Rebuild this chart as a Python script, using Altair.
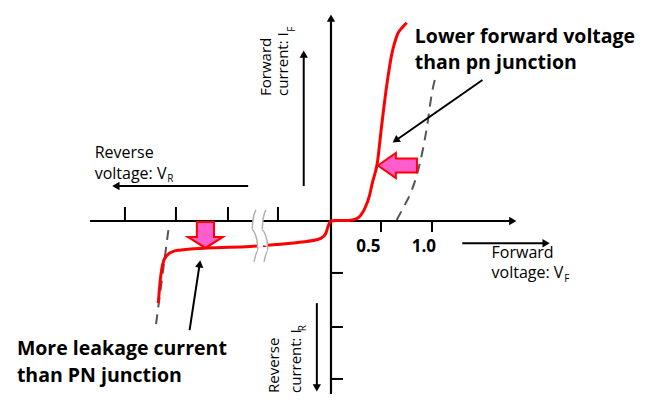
import altair as alt
import pandas as pd

# ---------------- data (volts on x, current units on y) ----------------
red_v = [-1.71, -1.69, -1.66, -1.62, -1.57, -1.50, -1.23, -0.80, -0.57, -0.31,
         -0.13, -0.08, -0.05, -0.03, 0.0, 0.04, 0.14, 0.21, 0.27, 0.31,
         0.34, 0.38, 0.41, 0.46, 0.50, 0.55, 0.58, 0.60, 0.63, 0.66, 0.71, 0.75]
red_i = [-1.55, -1.11, -0.77, -0.64, -0.58, -0.55, -0.51, -0.48, -0.45, -0.40,
         -0.35, -0.30, -0.23, -0.11, 0.0, 0.01, 0.01, 0.02, 0.06, 0.15,
         0.26, 0.47, 0.72, 1.11, 1.77, 2.53, 2.91, 3.13, 3.36, 3.53, 3.66, 3.74]

pn_fwd_v = [0.65, 0.73, 0.80, 0.88, 0.95, 1.00, 1.04]
pn_fwd_i = [0.02, 0.30, 0.58, 1.09, 1.77, 2.42, 2.75]
pn_rev_v = [-1.61, -1.74]
pn_rev_i = [-0.17, -2.06]

rev_tick_v = [-2.04, -1.535, -1.02, -0.525]
fwd_tick_v = [0.495, 1.0]
fwd_tick_labels = ["0.5", "1.0"]
fwd_label_v = [0.37, 0.92]
cur_tick_i = [-0.98, -2.0, -2.98]

# break symbol (two wavy strokes) around v = -0.7
brk_c = [0.21, 0.02, -0.17, -0.36, -0.55, -0.77]
brk_left_v = [-0.743, -0.772, -0.782, -0.733, -0.723, -0.762]
brk_right_v = [-0.644, -0.673, -0.683, -0.634, -0.624, -0.663]
brk_mid_v = [-0.693, -0.722, -0.732, -0.683, -0.673, -0.712]

# straight arrows: (x, y) start -> (x2, y2) tip, head angle
arrow_x = [-0.27, -0.82, 1.30, -0.14, 1.50, -1.40]
arrow_y = [0.66, 0.66, -0.42, -1.55, 2.66, -2.06]
arrow_x2 = [-0.27, -2.13, 2.13, -0.14, 0.64, -1.30]
arrow_y2 = [3.15, 0.66, -0.42, -3.15, 1.52, -0.81]
arrow_angle = [0, 270, 90, 180, 235, 8]

axis_head_x = [1.80, 0.0]
axis_head_y = [0.0, 3.83]
axis_head_angle = [90, 0]

# ---------------- scales ----------------
xs = alt.Scale(domain=[-3.198, 3.030], nice=False, zero=False)
ys = alt.Scale(domain=[-3.264, 4.019], nice=False, zero=False)


def X(f="x"):
    return alt.X(f"{f}:Q", scale=xs, axis=None)


def Y(f="y"):
    return alt.Y(f"{f}:Q", scale=ys, axis=None)


REG = "Open Sans"

# axes
axes_df = pd.DataFrame({"x": [-2.386, 0.0], "y": [0.0, -3.264],
                        "x2": [1.80, 0.0], "y2": [0.0, 3.83]})
axes = alt.Chart(axes_df).mark_rule(color="black", strokeWidth=2.2).encode(
    x=X(), y=Y(), x2="x2:Q", y2="y2:Q")

ticks_df = pd.DataFrame(
    [{"x": v, "y": 0.0, "x2": v, "y2": 0.264} for v in rev_tick_v]
    + [{"x": v, "y": 0.0, "x2": v, "y2": -0.208} for v in fwd_tick_v]
    + [{"x": 0.0, "y": c, "x2": 0.119, "y2": c} for c in cur_tick_i])
ticks = alt.Chart(ticks_df).mark_rule(color="black", strokeWidth=2).encode(
    x=X(), y=Y(), x2="x2:Q", y2="y2:Q")

# PN junction dashed curves
pn_df = pd.DataFrame(
    [{"x": v, "y": c, "g": "f", "i": k} for k, (v, c) in enumerate(zip(pn_fwd_v, pn_fwd_i))]
    + [{"x": v, "y": c, "g": "r", "i": k} for k, (v, c) in enumerate(zip(pn_rev_v, pn_rev_i))])
pn = alt.Chart(pn_df).mark_line(color="#555555", strokeWidth=2, strokeDash=[10, 7],
                                interpolate="monotone").encode(
    x=X(), y=Y(), detail="g:N", order="i:Q")

# Schottky red curve
red_df = pd.DataFrame({"x": red_v, "y": red_i, "i": list(range(len(red_v)))})
red = alt.Chart(red_df).mark_line(color="#ff0000", strokeWidth=3,
                                  interpolate="monotone").encode(
    x=X(), y=Y(), order="i:Q")

# break symbol
brk_mid = alt.Chart(pd.DataFrame({"x": brk_mid_v, "y": brk_c, "i": range(6)})).mark_line(
    color="white", strokeWidth=10, interpolate="monotone").encode(
    x=X(), y=Y(), order="i:Q")
brk_df = pd.DataFrame(
    [{"x": v, "y": c, "g": "l", "i": k} for k, (v, c) in enumerate(zip(brk_left_v, brk_c))]
    + [{"x": v, "y": c, "g": "r", "i": k} for k, (v, c) in enumerate(zip(brk_right_v, brk_c))])
brk = alt.Chart(brk_df).mark_line(color="#b0b0b0", strokeWidth=1.5,
                                  interpolate="monotone").encode(
    x=X(), y=Y(), detail="g:N", order="i:Q")

# arrows
arr_df = pd.DataFrame({"x": arrow_x, "y": arrow_y, "x2": arrow_x2, "y2": arrow_y2,
                       "a": arrow_angle})
arr = alt.Chart(arr_df).mark_rule(color="black", strokeWidth=2).encode(
    x=X(), y=Y(), x2="x2:Q", y2="y2:Q")
heads_df = pd.DataFrame({"x": arrow_x2 + axis_head_x, "y": arrow_y2 + axis_head_y,
                         "a": arrow_angle + axis_head_angle})
heads = alt.Chart(heads_df).mark_point(shape="triangle-up", filled=True, color="black",
                                       opacity=1, size=70).encode(
    x=X(), y=Y(), angle=alt.Angle("a:Q", scale=None))

# pink block arrows
pink_left = alt.Chart(pd.DataFrame({"x": [0.658], "y": [1.047]})).mark_point(
    shape="M-1,0L-0.08,-0.64L-0.08,-0.36L1,-0.36L1,0.36L-0.08,0.36L-0.08,0.64Z",
    size=1521, filled=True, fill="#ff5ccd", stroke="#ff0000", strokeWidth=2,
    opacity=1, fillOpacity=1).encode(x=X(), y=Y())
pink_down = alt.Chart(pd.DataFrame({"x": [-1.243], "y": [-0.264]})).mark_point(
    shape="M-0.49,-0.74L0.49,-0.74L0.49,0.11L1,0.11L0,0.74L-1,0.11L-0.49,0.11Z",
    size=1225, filled=True, fill="#ff5ccd", stroke="#ff0000", strokeWidth=2,
    opacity=1, fillOpacity=1).encode(x=X(), y=Y())

# texts
txt_df = pd.DataFrame({
    "x": [-2.34, -2.34, 1.59, 1.59],
    "y": [1.29, 0.88, -0.61, -0.99],
    "t": ["Reverse", "voltage: V", "Forward", "voltage: V"]})
txt = alt.Chart(txt_df).mark_text(align="left", baseline="middle", font=REG,
                                  fontSize=16, color="black").encode(
    x=X(), y=Y(), text="t:N")
sub_df = pd.DataFrame({"x": [-1.62, 2.31], "y": [0.79, -1.09], "t": ["R", "F"]})
sub = alt.Chart(sub_df).mark_text(align="left", baseline="middle", font=REG,
                                  fontSize=10, color="black").encode(
    x=X(), y=Y(), text="t:N")

rot_df = pd.DataFrame({
    "x": [-0.644, -0.475, -0.564, -0.347],
    "y": [2.36, 2.36, -3.245, -3.245],
    "t": ["Forward", "current: I", "Reverse", "current: I"]})
rot = alt.Chart(rot_df).mark_text(align="left", baseline="middle", font=REG,
                                  fontSize=15, angle=270, color="black").encode(
    x=X(), y=Y(), text="t:N")
rsub_df = pd.DataFrame({"x": [-0.39, -0.28], "y": [3.57, -2.08], "t": ["F", "R"]})
rsub = alt.Chart(rsub_df).mark_text(align="left", baseline="middle", font=REG,
                                    fontSize=10, angle=270, color="black").encode(
    x=X(), y=Y(), text="t:N")

bold_df = pd.DataFrame({
    "x": [0.83, 0.83, -3.11, -3.11],
    "y": [3.47, 2.98, -2.42, -2.92],
    "t": ["Lower forward voltage", "than pn junction",
          "More leakage current", "than PN junction"]})
bold = alt.Chart(bold_df).mark_text(align="left", baseline="middle", font=REG,
                                    fontSize=19.5, fontWeight="bold", color="black").encode(
    x=X(), y=Y(), text="t:N")

lab_df = pd.DataFrame({"x": fwd_label_v, "y": [-0.49, -0.49], "t": fwd_tick_labels})
lab = alt.Chart(lab_df).mark_text(align="center", baseline="middle", font=REG,
                                  fontSize=17, fontWeight="bold", color="black").encode(
    x=X(), y=Y(), text="t:N")

chart = alt.layer(
    pn, axes, ticks, red, brk_mid, brk, arr, heads, pink_left, pink_down,
    txt, sub, rot, rsub, bold, lab
).properties(
    width=629, height=386, padding=0,
    autosize=alt.AutoSizeParams(type="none"),
    background="white",
).configure_view(stroke=None)

chart.save("out.html", embed_options={"renderer": "svg", "actions": False})
